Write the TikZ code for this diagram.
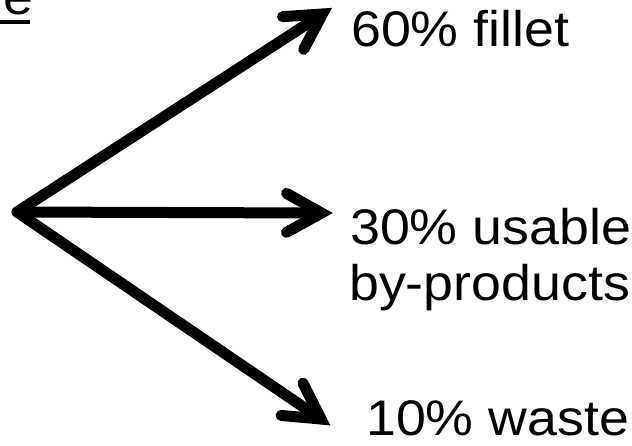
\documentclass[tikz,border=0pt]{standalone}
\usepackage{fontspec}
\setmainfont{Liberation Sans}
\usetikzlibrary{calc}
\newcommand{\wide}[1]{\scalebox{1.075}[1]{#1}}
\begin{document}
\begin{tikzpicture}[x=1pt,y=-1pt,
  shaft/.style={line width=11pt,line cap=round},
  barb/.style={line width=11pt,line cap=round,line join=miter,miter limit=10},
  lab/.style={anchor=base west,inner sep=0pt,font=\fontsize{50}{51}\selectfont}]
\useasboundingbox (0,0) rectangle (632,445);
\clip (0,0) rectangle (632,445);
% cut-off underlined word
\node[lab] (frag) at (3,14.5) {\wide{e}};
\fill (0,20) rectangle (30,24);
% arrows
\coordinate (o) at (17,212);
\coordinate (t1) at (322.5,14);
\coordinate (t2) at (321.5,213);
\coordinate (t3) at (321,419);
\foreach \t in {t1,t2,t3}{
  \draw[shaft] (o) -- (\t);
  \draw[barb] ($(\t)!35pt!(o)!19.5pt!90:(\t)$) -- (\t) -- ($(\t)!35pt!(o)!19.5pt!-90:(\t)$);
}
% labels
\node[lab] (l1) at (351,46) {\wide{60\% fillet}};
\node[lab] (l2) at (350,244) {\wide{30\% usable}};
\node[lab] (l3) at (349,300) {\wide{by-products}};
\node[lab] (l4) at (366,435) {\wide{10\% waste}};
\end{tikzpicture}
\end{document}
